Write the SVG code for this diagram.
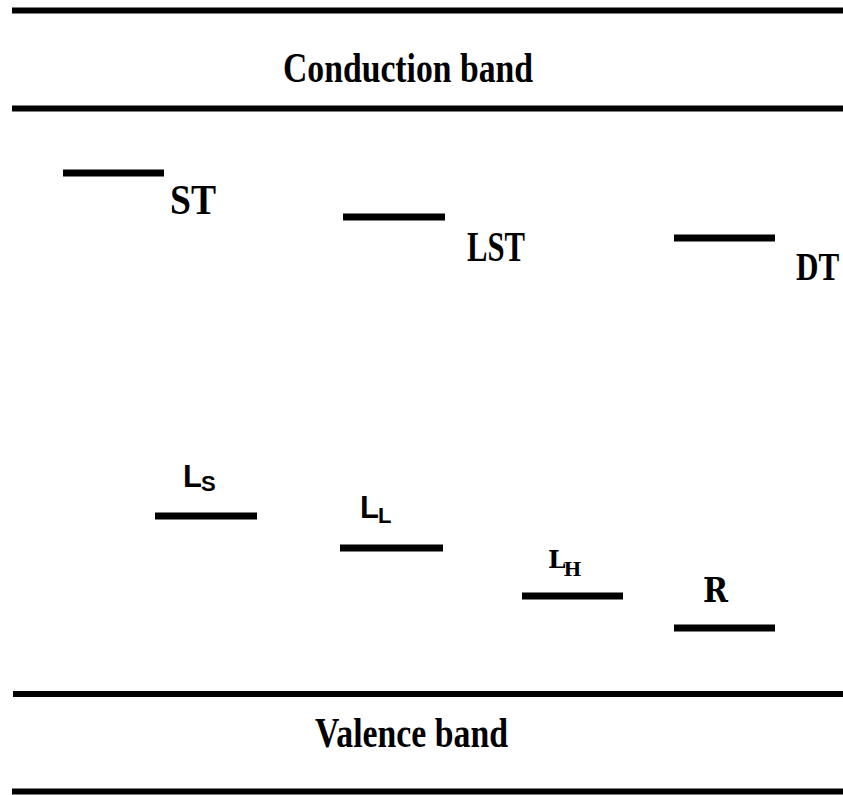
<svg xmlns="http://www.w3.org/2000/svg" width="843" height="795" viewBox="0 0 843 795">
  <style>
    .band { stroke: #000; stroke-width: 6; }
    .level { stroke: #000; stroke-width: 7; }
    .tnr { font-family: "Liberation Serif", "Times New Roman", serif; font-weight: bold; fill: #000; }
    .cal { font-family: "Liberation Sans", Arial, sans-serif; font-weight: bold; fill: #000; }
    .cam { font-family: "DejaVu Serif", "Liberation Serif", serif; font-weight: bold; fill: #000; }
  </style>
  <rect width="843" height="795" fill="#fff"/>

  <!-- band edges -->
  <g id="bands">
    <line class="band" x1="12" y1="10.5" x2="843" y2="10.5"/>
    <line class="band" x1="12" y1="108.5" x2="843" y2="108.5"/>
    <line class="band" x1="13" y1="694" x2="843" y2="694"/>
    <line class="band" x1="12" y1="791.5" x2="843" y2="791.5"/>
  </g>

  <g id="conduction-band">
    <text class="tnr" x="283" y="82" font-size="42" textLength="250" lengthAdjust="spacingAndGlyphs">Conduction band</text>
  </g>
  <g id="valence-band">
    <text class="tnr" x="315" y="747" font-size="42" textLength="193" lengthAdjust="spacingAndGlyphs">Valence band</text>
  </g>

  <!-- trap levels -->
  <g id="ST">
    <line class="level" x1="63" y1="173" x2="164" y2="173"/>
    <text class="tnr" x="170" y="214" font-size="42" textLength="46" lengthAdjust="spacingAndGlyphs">ST</text>
  </g>
  <g id="LST">
    <line class="level" x1="343" y1="217" x2="445" y2="217"/>
    <text class="tnr" x="467" y="261" font-size="42" textLength="58" lengthAdjust="spacingAndGlyphs">LST</text>
  </g>
  <g id="DT">
    <line class="level" x1="674" y1="238" x2="775" y2="238"/>
    <!-- condensed horizontally so the label stays inside the right edge -->
    <text class="tnr" transform="translate(796 280) scale(0.76 1)" font-size="41">DT</text>
  </g>

  <!-- luminescence / recombination levels -->
  <g id="LS">
    <line class="level" x1="155" y1="516" x2="257" y2="516"/>
    <text class="cal" x="183" y="487" font-size="31">L<tspan font-size="22" dy="4" dx="-1">S</tspan></text>
  </g>
  <g id="LL">
    <line class="level" x1="340" y1="548" x2="443" y2="548"/>
    <text class="cal" x="360" y="518" font-size="31">L<tspan font-size="22" dy="5" dx="-1">L</tspan></text>
  </g>
  <g id="LH">
    <line class="level" x1="522" y1="596" x2="623" y2="596"/>
    <text class="cam" x="548" y="568" font-size="25">L<tspan font-size="19" dy="8" dx="-2">H</tspan></text>
  </g>
  <g id="R">
    <line class="level" x1="674" y1="628" x2="775" y2="628"/>
    <text class="cam" x="703" y="602" font-size="33" textLength="25" lengthAdjust="spacingAndGlyphs">R</text>
  </g>
</svg>
